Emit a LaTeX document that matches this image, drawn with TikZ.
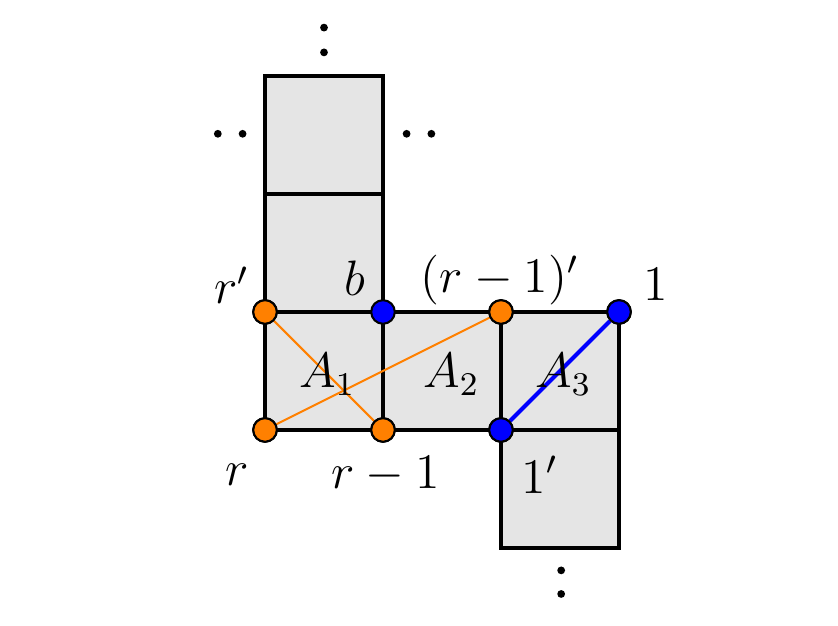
\documentclass[tikz,border=0pt]{standalone}
\begin{document}
\begin{tikzpicture}[
  cell/.style={draw=black, fill=black!10, line width=0.75pt},
  vtx/.style={circle, draw=black, line width=0.5pt, minimum size=0.2cm, inner sep=0pt},
  ov/.style={vtx, fill={rgb,255:red,255;green,128;blue,0}},
  bv/.style={vtx, fill=blue},
  lbl/.style={font=\fontsize{11.5}{14}\selectfont, inner sep=0pt},
  dotn/.style={circle, fill=black, minimum size=0.066cm, inner sep=0pt},
  oline/.style={draw={rgb,255:red,255;green,128;blue,0}, line width=0.5pt},
  bline/.style={draw=blue, line width=1pt}
]
\useasboundingbox (-2.246,-1.653) rectangle (4.856,3.644);
% cells
\draw[cell] (0,0) rectangle (1,1);
\draw[cell] (0,1) rectangle (1,2);
\draw[cell] (0,2) rectangle (1,3);
\draw[cell] (1,0) rectangle (2,1);
\draw[cell] (2,0) rectangle (3,1);
\draw[cell] (2,-1) rectangle (3,0);
% vertices
\node[ov] (rp) at (0,1) {};
\node[bv] (b) at (1,1) {};
\node[ov] (rm1p) at (2,1) {};
\node[bv] (one) at (3,1) {};
\node[ov] (r) at (0,0) {};
\node[ov] (rm1) at (1,0) {};
\node[bv] (onep) at (2,0) {};
% connectors
\draw[oline] (rp) -- (rm1);
\draw[oline] (r) -- (rm1p);
\draw[bline] (onep) -- (one);
% redraw vertices on top
\node[ov] at (0,1) {};
\node[ov] at (2,1) {};
\node[ov] at (0,0) {};
\node[ov] at (1,0) {};
\node[bv] at (2,0) {};
\node[bv] at (3,1) {};
% labels
\node[lbl] (lrp) at (-0.28,1.23) {$r'$};
\node[lbl] (lb) at (0.76,1.29) {$b$};
\node[lbl] (lrm1p) at (1.99,1.27) {$(r-1)'$};
\node[lbl] (lone) at (3.31,1.23) {$1$};
\node[lbl] (lA1) at (0.53,0.47) {$A_1$};
\node[lbl] (lA2) at (1.58,0.47) {$A_2$};
\node[lbl] (lA3) at (2.53,0.47) {$A_3$};
\node[lbl] (lr) at (-0.24,-0.38) {$r$};
\node[lbl] (lrm1) at (1.02,-0.38) {$r-1$};
\node[lbl] (lonep) at (2.33,-0.38) {$1'$};
% dots
\node[dotn] (t1) at (0.5,3.41) {};
\node[dotn] (t2) at (0.5,3.20) {};
\node[dotn] (l1) at (-0.40,2.51) {};
\node[dotn] (l2) at (-0.19,2.51) {};
\node[dotn] (q1) at (1.20,2.51) {};
\node[dotn] (q2) at (1.41,2.51) {};
\node[dotn] (d1) at (2.51,-1.19) {};
\node[dotn] (d2) at (2.51,-1.39) {};
\end{tikzpicture}
\end{document}
